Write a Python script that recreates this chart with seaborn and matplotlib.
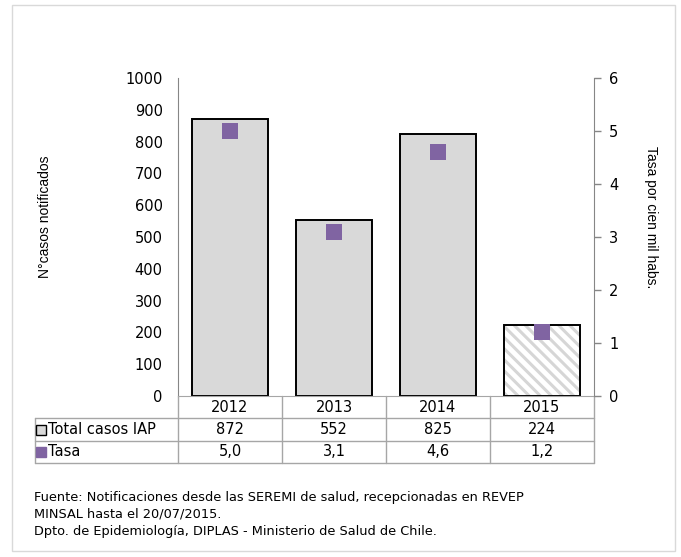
import numpy as np
import matplotlib
matplotlib.use("Agg")
import matplotlib.pyplot as plt
import matplotlib.transforms as mtrans
from matplotlib.patches import Rectangle
import seaborn as sns

# ---------------------------------------------------------------------------
# Data
# ---------------------------------------------------------------------------
years = ["2012", "2013", "2014", "2015"]
casos = [872, 552, 825, 224]
tasa = [5.0, 3.1, 4.6, 1.2]
tasa_labels = ["5,0", "3,1", "4,6", "1,2"]

BAR_GRAY = "#D9D9D9"
PURPLE = "#8064A2"
GRID_GRAY = "#A6A6A6"
AXIS_GRAY = "#868686"

sns.set_style("white")
plt.rcParams.update({
    "font.family": "DejaVu Sans",
    "hatch.linewidth": 2.2,
    "text.color": "black",
    "xtick.color": "black",
    "ytick.color": "black",
    "axes.labelcolor": "black",
})

fig = plt.figure(figsize=(6.81, 5.57), dpi=100)
ax = fig.add_axes([178 / 681, 1 - 396 / 557, (594 - 178) / 681, (396 - 78) / 557])

# bars
palette = [BAR_GRAY, BAR_GRAY, BAR_GRAY, "white"]
sns.barplot(x=years, y=casos, hue=years, palette=palette, legend=False,
            width=0.73, edgecolor="black", linewidth=1.4, saturation=1, ax=ax)

# 2015 is partial data -> hatched bar
last = ax.patches[3]
hatch = Rectangle((last.get_x(), last.get_y()), last.get_width(), last.get_height(),
                  facecolor="white", edgecolor="#D6D6D6", hatch="\\\\\\",
                  linewidth=0, zorder=last.get_zorder() - 0.1)
ax.add_patch(hatch)
last.set_facecolor("none")

ax.set_xlim(-0.5, 3.5)
ax.set_ylim(0, 1000)
ax.set_yticks(np.arange(0, 1001, 100))
ax.tick_params(axis="y", length=0, pad=11, labelsize=10.5, labelcolor="black")
ax.tick_params(axis="x", length=0, labelbottom=False)
ax.set_xlabel("")
ax.set_ylabel("")
for s in ["top", "right"]:
    ax.spines[s].set_visible(False)
ax.spines["left"].set_color(AXIS_GRAY)
ax.spines["bottom"].set_color(GRID_GRAY)

# rate on secondary axis
ax2 = ax.twinx()
sns.scatterplot(x=np.arange(len(years)), y=tasa, marker="s", s=135,
                color=PURPLE, edgecolor="none", ax=ax2, zorder=5)
ax2.set_ylim(0, 6)
ax2.set_xlim(-0.5, 3.5)
ax2.set_yticks(range(0, 7))
ax2.tick_params(axis="y", direction="out", length=5, width=1, color=AXIS_GRAY,
                pad=6, labelsize=10.5, labelcolor="black")
for s in ["top", "left", "bottom"]:
    ax2.spines[s].set_visible(False)
ax2.spines["right"].set_color(AXIS_GRAY)

# axis titles
fig.text(45 / 681, 1 - 217 / 557, "N°casos notificados", rotation=90,
         ha="center", va="center", fontsize=10, family="Liberation Sans")
fig.text(651 / 681, 1 - 217 / 557, "Tasa por cien mil habs.", rotation=270,
         ha="center", va="center", fontsize=10, family="Liberation Sans")

# ---------------------------------------------------------------------------
# Data table under the chart
# ---------------------------------------------------------------------------
blend = mtrans.blended_transform_factory(ax.transData, ax.transAxes)
row_y = [0, -22 / 318, -45 / 318, -67 / 318]   # row edges in axes fraction
left_edge = (35 - 178) / 416

line_kw = dict(color=GRID_GRAY, linewidth=1, clip_on=False)
for xe in np.arange(len(years) + 1) - 0.5:
    ax.plot([xe, xe], [row_y[0], row_y[3]], transform=blend, **line_kw)
for yy in row_y[1:]:
    ax.plot([left_edge, 1], [yy, yy], transform=ax.transAxes, **line_kw)
ax.plot([left_edge, left_edge], [row_y[1], row_y[3]], transform=ax.transAxes, **line_kw)

centers = [(row_y[i] + row_y[i + 1]) / 2 for i in range(3)]
for i, yr in enumerate(years):
    ax.text(i, centers[0], yr, transform=blend, ha="center", va="center", fontsize=10.5)
    ax.text(i, centers[1], str(casos[i]), transform=blend, ha="center", va="center",
            fontsize=10.5)
    ax.text(i, centers[2], tasa_labels[i], transform=blend, ha="center", va="center",
            fontsize=10.5)

# row labels with legend keys
key_x = (41 - 178) / 416
ax.plot([key_x], [centers[1]], marker="s", markersize=6.5, markerfacecolor=BAR_GRAY,
        markeredgecolor="black", markeredgewidth=1, transform=ax.transAxes,
        clip_on=False)
ax.plot([key_x], [centers[2]], marker="s", markersize=7, color=PURPLE,
        transform=ax.transAxes, clip_on=False)
ax.text((48 - 178) / 416, centers[1], "Total casos IAP", transform=ax.transAxes,
        ha="left", va="center", fontsize=10.5)
ax.text((48 - 178) / 416, centers[2], "Tasa", transform=ax.transAxes,
        ha="left", va="center", fontsize=10.5)

# ---------------------------------------------------------------------------
# Source note and outer frame
# ---------------------------------------------------------------------------
notes = [
    "Fuente: Notificaciones desde las SEREMI de salud, recepcionadas en REVEP",
    "MINSAL hasta el 20/07/2015.",
    "Dpto. de Epidemiología, DIPLAS - Ministerio de Salud de Chile.",
]
for k, line in enumerate(notes):
    fig.text(34 / 681, 1 - (497 + 17 * k) / 557, line, ha="left", va="center",
             fontsize=9.3)

fig.patches.append(Rectangle((12 / 681, 1 - 551 / 557), (675 - 12) / 681, (551 - 5) / 557,
                             transform=fig.transFigure, fill=False,
                             edgecolor="#D9D9D9", linewidth=1))

fig.savefig("out.png", dpi=100)
